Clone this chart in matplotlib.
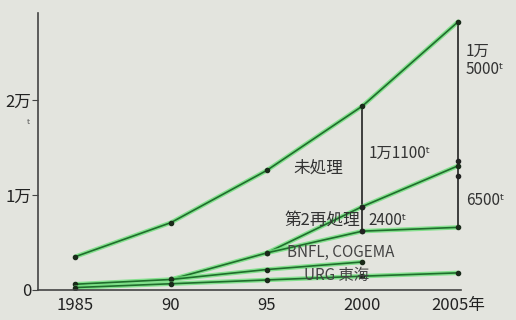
import matplotlib.pyplot as plt
import numpy as np

plt.rcParams['font.family'] = ['Noto Sans CJK JP', 'DejaVu Sans']

# 累積量 (トン)
years = [1985, 1990, 1995, 2000, 2005]
total = [3500, 7100, 12600, 19400, 28300]          # 発生量
yr_b = [1990, 1995, 2000, 2005]
second = [1100, 3900, 8800, 13100]                 # 第2再処理まで
yr_c = [1995, 2000, 2005]
others = [3900, 6200, 6600]
yr_d = [1985, 1990, 1995, 2000]
bnfl = [600, 1100, 2150, 2950]                     # BNFL, COGEMA
urg = [250, 650, 1050, 1450, 1800]                 # URG, 東海

xticks = [1985, 1990, 1995, 2000, 2005]
xlabels = ['1985', '90', '95', '2000', '2005年']
yticks = [0, 10000, 20000]
ylabels = ['0', '1万', '2万']

bg = '#e3e4de'
green = '#1f6e2c'
fig = plt.figure(figsize=(5.16, 3.2), dpi=100, facecolor=bg)
ax = fig.add_axes([0.0736, 0.094, 0.82, 0.865], facecolor=bg)

def curve(x, y):
    ax.plot(x, y, color='#6ee07a', lw=3.2, alpha=0.8, solid_capstyle='round')
    ax.plot(x, y, color=green, lw=1.2, marker='o', ms=3, mfc='#1a2a1a', mec='#1a2a1a')

curve(years, total)
curve(yr_b, second)
curve(yr_c, others)
curve(yr_d, bnfl)
curve(years, urg)

# 縦の矢印
ax.plot([2000, 2000], [total[3], others[1]], color='#222', lw=1.2, zorder=1)
ax.plot([2000, 2000], [second[2], others[1]], 'o', color='#222', ms=3)
ax.plot([2005, 2005], [total[4], others[2]], color='#222', lw=1.2, zorder=1)
ax.plot([2005, 2005], [13600, 12000], 'o', color='#222', ms=3)

fs = 11
ax.text(2000.3, 14400, '1万1100ᵗ', fontsize=fs, va='center', color='#333')
ax.text(1999.0, 12800, '未処理', fontsize=fs + 1, ha='right', va='center', color='#333')
ax.text(1999.9, 7400, '第2再処理', fontsize=fs + 1, ha='right', va='center', color='#333')
ax.text(2000.3, 7300, '2400ᵗ', fontsize=fs, va='center', color='#333')
ax.text(1998.85, 3900, 'BNFL, COGEMA', fontsize=fs, ha='center', va='center', color='#444')
ax.text(1998.65, 1550, 'URG 東海', fontsize=fs, ha='center', va='center', color='#444')
ax.text(2005.4, 24200, '1万\n5000ᵗ', fontsize=fs, va='center', color='#333', linespacing=1.1)
ax.text(2005.4, 9400, '6500ᵗ', fontsize=fs, va='center', color='#333')
fig.text(0.052, 0.6, 'ᵗ', fontsize=9, color='#555')

ax.set_xlim(1983.06, 2005.15)
ax.set_ylim(0, 29200)
ax.set_xticks(xticks)
ax.set_xticklabels(xlabels, fontsize=12, color='#222')
ax.set_yticks(yticks)
ax.set_yticklabels(ylabels, fontsize=12, color='#222')
ax.tick_params(axis='x', length=0, pad=5)
ax.tick_params(axis='y', length=4, pad=1, color='#444')
for s in ['top', 'right']:
    ax.spines[s].set_visible(False)
for s in ['left', 'bottom']:
    ax.spines[s].set_color('#444')
    ax.spines[s].set_linewidth(1.2)

fig.savefig('out.png', dpi=100, facecolor=bg)
